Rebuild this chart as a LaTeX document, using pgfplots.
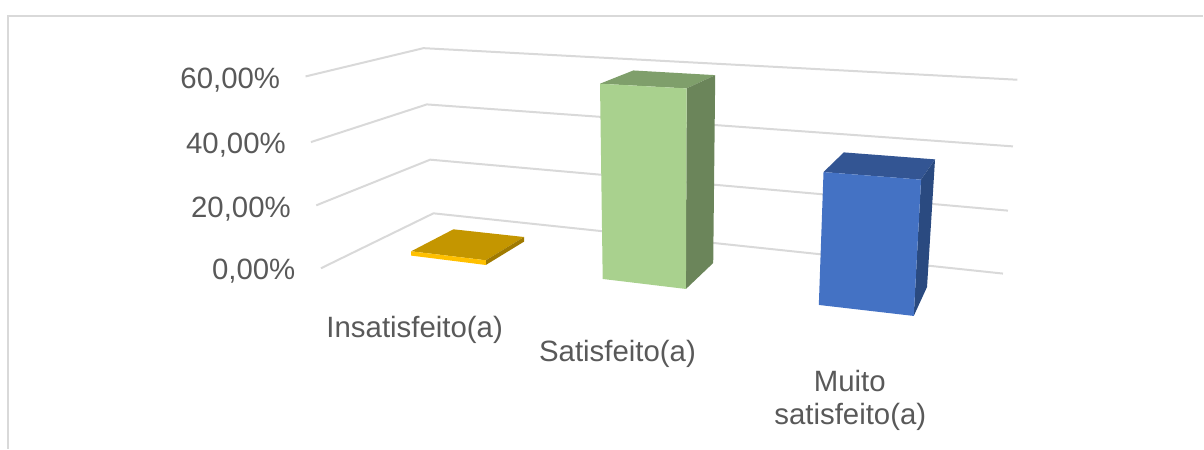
\documentclass[border=0pt]{standalone}
\usepackage{fontspec}
\setmainfont{Liberation Sans}
\usepackage{pgfplots}
\usepackage{pgfplotstable}
\pgfplotsset{compat=1.18}

\definecolor{txt}{HTML}{595959}
\definecolor{grid}{HTML}{D9D9D9}
\definecolor{yfront}{HTML}{FFC000}
\definecolor{ytop}{HTML}{C49600}
\definecolor{yside}{HTML}{A07A00}
\definecolor{gfront}{HTML}{A9D18E}
\definecolor{gtop}{HTML}{7F9F6B}
\definecolor{gside}{HTML}{6B855A}
\definecolor{bfront}{HTML}{4472C4}
\definecolor{btop}{HTML}{335593}
\definecolor{bside}{HTML}{2A4A80}

% the chart is a perspective view, so everything is in picture pixels
\pgfplotstableread{
x y
411 251
485.7 260
485.7 264.7
411 255.3
}\yellowfront
\pgfplotstableread{
x y
411 251
453.3 229
524 236.7
485.7 260
}\yellowtop
\pgfplotstableread{
x y
485.7 260
524 236.7
524 241.3
485.7 264.7
}\yellowside
\pgfplotstableread{
x y
600 83.3
686.7 88
686 288.7
602.7 278.7
}\greenfront
\pgfplotstableread{
x y
600 83.3
633.3 70
715.3 74.7
686.7 88
}\greentop
\pgfplotstableread{
x y
686.7 88
715.3 74.7
713.3 262.7
686 288.7
}\greenside
\pgfplotstableread{
x y
823.7 171.7
921.3 179.3
914 315.7
819 304.7
}\bluefront
\pgfplotstableread{
x y
823.7 171.7
844 152
935.3 159
921.3 179.3
}\bluetop
\pgfplotstableread{
x y
921.3 179.3
935.3 159
927.3 286.7
914 315.7
}\blueside

\begin{document}
\begin{tikzpicture}[
    lab/.style={font=\fontsize{29.4}{29.4}\selectfont, text=txt, inner sep=0pt},
    gridline/.style={draw=grid, line width=2pt},
    face/.style={draw=none, fill=#1},
]
\begin{axis}[
    scale only axis,
    width=1204pt,
    height=449pt,
    xmin=-0.5, xmax=1203.5,
    ymin=-0.5, ymax=448.5,
    y dir=reverse,
    hide axis,
    clip=false,
    every axis plot/.append style={no marks},
]
% keeps the page as large as the axis
\path (axis cs:-0.5,-0.5) -- (axis cs:1203.5,448.5);

% frame
\addplot[gridline] coordinates {(8,448.5) (8,15.5) (1203.5,15.5)};

% gridlines
\addplot[gridline] coordinates {(305.3,76) (423.3,47.7) (1017.7,79.3)};
\addplot[gridline] coordinates {(310.7,141.7) (426.7,104) (1013.3,146)};
\addplot[gridline] coordinates {(316,205) (430,159.3) (1008.3,210.3)};
\addplot[gridline] coordinates {(320.7,268) (433.3,213) (1003.3,273.3)};

% Insatisfeito(a)
\addplot[face=ytop] table {\yellowtop} -- cycle;
\addplot[face=yside] table {\yellowside} -- cycle;
\addplot[face=yfront] table {\yellowfront} -- cycle;
% Satisfeito(a)
\addplot[face=gtop] table {\greentop} -- cycle;
\addplot[face=gside] table {\greenside} -- cycle;
\addplot[face=gfront] table {\greenfront} -- cycle;
% Muito satisfeito(a)
\addplot[face=btop] table {\bluetop} -- cycle;
\addplot[face=bside] table {\blueside} -- cycle;
\addplot[face=bfront] table {\bluefront} -- cycle;

% value labels
\node[lab, anchor=base east] at (axis cs:280,88.2) {60,00\%};
\node[lab, anchor=base east] at (axis cs:285.7,153.3) {40,00\%};
\node[lab, anchor=base east] at (axis cs:290.7,217) {20,00\%};
\node[lab, anchor=base east] at (axis cs:295.3,279) {0,00\%};
% category labels
\node[lab, anchor=base] at (axis cs:414.5,337.5) {Insatisfeito(a)};
\node[lab, anchor=base] at (axis cs:617.5,361.5) {Satisfeito(a)};
\node[lab, anchor=base] at (axis cs:850,391.5) {Muito};
\node[lab, anchor=base] at (axis cs:850.5,424.5) {satisfeito(a)};
\end{axis}
\end{tikzpicture}
\end{document}
